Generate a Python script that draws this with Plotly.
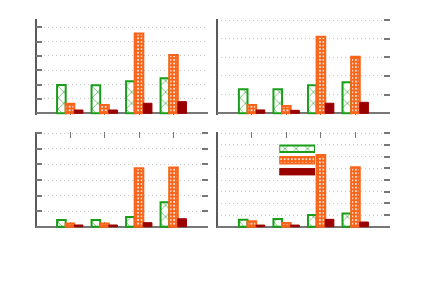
import plotly.graph_objects as go

# ---------------- data ----------------
categories = [1, 2, 3, 4]

p1_green = [19.8, 19.5, 22.3, 24.4]
p1_orange = [6.7, 5.8, 55.6, 40.7]
p1_red = [2.3, 2.3, 7.0, 8.1]

p2_green = [12.9, 12.9, 15.0, 16.6]
p2_orange = [4.5, 3.9, 41.0, 30.3]
p2_red = [1.8, 1.6, 5.4, 5.9]

p3_green = [4.3, 4.3, 6.2, 15.7]
p3_orange = [2.1, 2.1, 37.5, 38.0]
p3_red = [1.1, 1.1, 2.6, 5.1]

p4_green = [6.0, 6.6, 10.0, 11.4]
p4_orange = [4.6, 3.1, 61.4, 50.9]
p4_red = [1.4, 1.4, 6.3, 4.0]

y_max = [65, 50, 60, 80]
legend_rows = [0, 1, 2]

# ---------------- styles ----------------
W, H = 443, 291
GREEN = "#1a9e1a"
ORANGE = "#f8651a"
RED = "#9a0000"
AXC = "#5a5a5a"
TICKC = "#777777"
GRIDC = "#c8c8c8"

green_marker = dict(color="white", line=dict(color=GREEN, width=2),
                    pattern=dict(shape="x", fgcolor=GREEN, bgcolor="white",
                                 size=8, solidity=0.14, fillmode="replace"))
orange_marker = dict(color=ORANGE, line=dict(color=ORANGE, width=2),
                     pattern=dict(shape=".", fgcolor="white", bgcolor=ORANGE,
                                  size=3.6, solidity=0.24, fillmode="replace"))
red_marker = dict(color=RED, line=dict(color=RED, width=1))

panels = [
    dict(x0=35.5, x1=208, top=20, zero=113.3, side="left", ymirror=False, xmirror=False,
         data=(p1_green, p1_orange, p1_red)),
    dict(x0=217.3, x1=390, top=20, zero=113.3, side="right", ymirror=False, xmirror=False,
         data=(p2_green, p2_orange, p2_red)),
    dict(x0=35.5, x1=208, top=133.3, zero=226.7, side="left", ymirror="ticks", xmirror="ticks",
         data=(p3_green, p3_orange, p3_red)),
    dict(x0=217.3, x1=390, top=133.3, zero=226.7, side="right", ymirror=False, xmirror="ticks",
         data=(p4_green, p4_orange, p4_red)),
]

fig = go.Figure()
layout = dict(width=W, height=H, margin=dict(l=0, r=0, t=0, b=0),
              paper_bgcolor="white", plot_bgcolor="white",
              barmode="group", bargap=0.25, bargroupgap=0, showlegend=False)

pad = 1.5
for i, p in enumerate(panels):
    n = "" if i == 0 else str(i + 1)
    ppu = (p["zero"] - p["top"]) / y_max[i]
    g, o, r = p["data"]
    for vals, mk in ((g, green_marker), (o, orange_marker), (r, red_marker)):
        fig.add_trace(go.Bar(x=categories, y=vals, marker=mk,
                             xaxis="x" + n, yaxis="y" + n, hoverinfo="skip"))
    layout["xaxis" + n] = dict(
        domain=[p["x0"] / W, p["x1"] / W], range=[0, 5], anchor="y" + n,
        showgrid=False, showline=False, zeroline=True, zerolinecolor=AXC,
        zerolinewidth=1.5, ticks="inside", ticklen=6, tickwidth=1.3,
        tickcolor=TICKC, tickvals=categories, showticklabels=False,
        mirror=p["xmirror"], layer="below traces")
    layout["yaxis" + n] = dict(
        domain=[1 - (p["zero"] + pad) / H, 1 - (p["top"] - pad) / H],
        range=[-pad / ppu, y_max[i] + pad / ppu], anchor="x" + n,
        side=p["side"], showgrid=True, gridcolor=GRIDC, griddash="1px,3px",
        gridwidth=1, dtick=10, tick0=0, showline=False, zeroline=True,
        zerolinecolor=TICKC, zerolinewidth=1.8, ticks="inside", ticklen=6,
        tickwidth=1.5, tickcolor=TICKC, showticklabels=False,
        mirror=p["ymirror"], layer="below traces")

# ---------------- legend samples (drawn in their own small axis) ----------------
for row, mk in zip(legend_rows, (green_marker, orange_marker, red_marker)):
    fig.add_trace(go.Bar(y=[row], x=[1], base=0, orientation="h", width=0.55,
                         offset=-0.275, marker=mk, xaxis="x5", yaxis="y5",
                         hoverinfo="skip"))
lx0, lx1, ly0, ly1 = 279.3, 315.0, 143.0, 177.5
layout["xaxis5"] = dict(domain=[lx0 / W, lx1 / W], range=[0, 1], anchor="y5",
                        showgrid=False, zeroline=False, showline=False,
                        showticklabels=False, ticks="")
layout["yaxis5"] = dict(domain=[1 - ly1 / H, 1 - ly0 / H], range=[2.5, -0.5],
                        anchor="x5", showgrid=False, zeroline=False,
                        showline=False, showticklabels=False, ticks="")
layout["shapes"] = [dict(type="rect", xref="x5 domain", yref="y5 domain",
                         x0=(219 - lx0) / (lx1 - lx0), x1=(320 - lx0) / (lx1 - lx0),
                         y0=-(179 - ly1) / (ly1 - ly0), y1=(ly1 - 137) / (ly1 - ly0),
                         fillcolor="white", line=dict(width=0), layer="below")]

fig.update_layout(**layout)
fig.write_html("out.html", config={"displayModeBar": False},
               post_script="document.body.style.margin='0';document.body.style.padding='0';")
